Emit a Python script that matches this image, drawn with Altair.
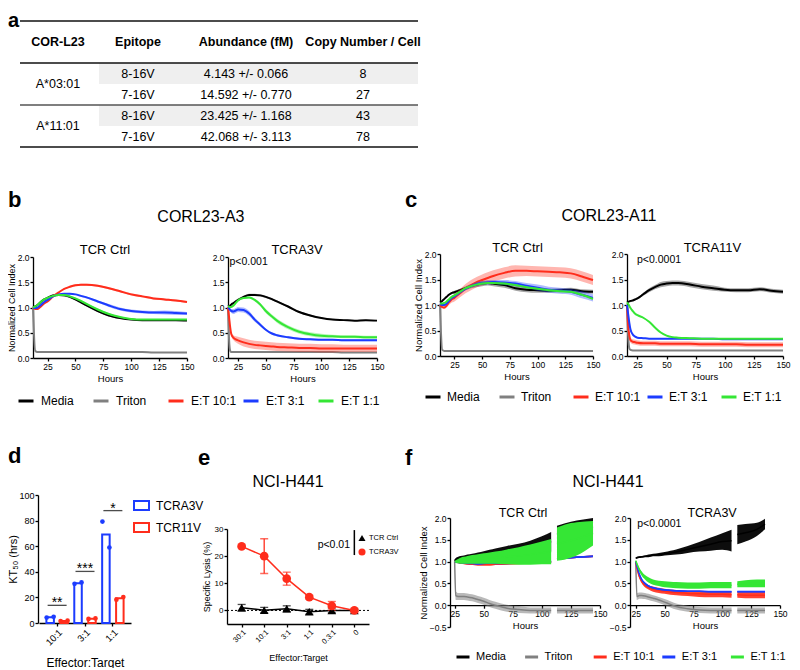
import altair as alt
import pandas as pd

FONT = "Liberation Sans"
W, H = 784, 660

BLACK, GRAY, RED, BLUE, GREEN = "#000000", "#808080", "#ff2d1c", "#1c3cff", "#35e635"
SERIES = ["Media", "Triton", "E:T 10:1", "E:T 3:1", "E:T 1:1"]
SERIES_COLORS = [BLACK, GRAY, RED, BLUE, GREEN]

# ---------------- panel a : table ----------------
TABLE_HEADERS = ["COR-L23", "Epitope", "Abundance (fM)", "Copy Number / Cell"]
TABLE_ALLELES = ["A*03:01", "A*11:01"]
TABLE_EPITOPES = ["8-16V", "7-16V", "8-16V", "7-16V"]
TABLE_ABUNDANCE = ["4.143 +/- 0.066", "14.592 +/- 0.770", "23.425 +/- 1.168", "42.068 +/- 3.113"]
TABLE_COPIES = [8, 27, 43, 78]

# ---------------- panels b, c : time courses ----------------
HOURS_L = [12, 14, 16, 18, 20, 22,
           25, 30, 35, 40, 45, 50, 55, 60,
           70, 80, 90, 100, 110, 120, 130, 140, 150]
HOURS_R = [16, 17, 18, 19, 21, 23,
           25, 30, 35, 40, 45, 50, 55, 60,
           70, 80, 90, 100, 110, 120, 130, 140, 150]

B_CTRL_MEDIA = [1.00, 1.02, 1.05, 1.09, 1.13, 1.16,
                1.19, 1.24, 1.25, 1.24, 1.21, 1.16, 1.10, 1.04,
                0.93, 0.84, 0.79, 0.76, 0.75, 0.75, 0.75, 0.75, 0.74]
B_CTRL_TRITON = [1.00, 0.14, 0.12, 0.12, 0.12, 0.12,
                 0.12, 0.12, 0.12, 0.12, 0.12, 0.12, 0.12, 0.12,
                 0.12, 0.12, 0.12, 0.12, 0.12, 0.11, 0.11, 0.11, 0.11]
B_CTRL_E10 = [1.00, 0.97, 0.97, 1.00, 1.04, 1.08,
              1.12, 1.22, 1.30, 1.37, 1.41, 1.44, 1.45, 1.45,
              1.43, 1.38, 1.32, 1.26, 1.22, 1.18, 1.16, 1.14, 1.11]
B_CTRL_E3 = [1.00, 0.99, 1.00, 1.03, 1.07, 1.11,
             1.15, 1.22, 1.26, 1.27, 1.27, 1.26, 1.23, 1.20,
             1.12, 1.04, 0.97, 0.93, 0.91, 0.90, 0.90, 0.89, 0.88]
B_CTRL_E1 = [1.00, 1.02, 1.05, 1.09, 1.13, 1.16,
             1.19, 1.23, 1.25, 1.25, 1.22, 1.18, 1.13, 1.07,
             0.96, 0.87, 0.81, 0.77, 0.76, 0.76, 0.76, 0.76, 0.76]
B_CTRL_MEDIA_SD = [0.00, 0.01, 0.01, 0.01, 0.01, 0.01,
                   0.01, 0.02, 0.02, 0.02, 0.02, 0.02, 0.02, 0.02,
                   0.02, 0.02, 0.02, 0.01, 0.01, 0.01, 0.01, 0.01, 0.01]
B_CTRL_TRITON_SD = [0.00, 0.01, 0.01, 0.01, 0.01, 0.01,
                    0.01, 0.01, 0.01, 0.01, 0.01, 0.01, 0.01, 0.01,
                    0.01, 0.01, 0.01, 0.01, 0.01, 0.01, 0.01, 0.01, 0.01]
B_CTRL_E10_SD = [0.00, 0.01, 0.01, 0.01, 0.01, 0.01,
                 0.01, 0.01, 0.01, 0.01, 0.02, 0.02, 0.02, 0.02,
                 0.02, 0.02, 0.02, 0.02, 0.02, 0.02, 0.02, 0.02, 0.02]
B_CTRL_E3_SD = [0.00, 0.01, 0.01, 0.01, 0.01, 0.01,
                0.01, 0.01, 0.01, 0.01, 0.01, 0.01, 0.02, 0.02,
                0.02, 0.03, 0.03, 0.03, 0.03, 0.03, 0.04, 0.04, 0.03]
B_CTRL_E1_SD = [0.00, 0.01, 0.01, 0.01, 0.01, 0.01,
                0.01, 0.01, 0.01, 0.01, 0.02, 0.02, 0.02, 0.02,
                0.02, 0.02, 0.01, 0.01, 0.01, 0.01, 0.01, 0.01, 0.01]

B_A3V_MEDIA = [1.02, 1.03, 1.04, 1.06, 1.09, 1.12,
               1.15, 1.21, 1.25, 1.25, 1.24, 1.21, 1.17, 1.12,
               1.02, 0.91, 0.84, 0.79, 0.76, 0.75, 0.74, 0.75, 0.74]
B_A3V_TRITON = [1.00, 0.35, 0.14, 0.12, 0.12, 0.12,
                0.12, 0.12, 0.12, 0.12, 0.12, 0.12, 0.12, 0.12,
                0.12, 0.12, 0.12, 0.12, 0.12, 0.11, 0.11, 0.11, 0.11]
B_A3V_E10 = [1.00, 0.80, 0.60, 0.47, 0.40, 0.37,
             0.35, 0.31, 0.28, 0.26, 0.25, 0.24, 0.23, 0.22,
             0.21, 0.20, 0.20, 0.19, 0.19, 0.19, 0.19, 0.19, 0.19]
B_A3V_E3 = [1.00, 0.98, 0.95, 0.93, 0.92, 0.94,
            0.96, 0.95, 0.88, 0.76, 0.66, 0.56, 0.49, 0.45,
            0.41, 0.38, 0.37, 0.36, 0.36, 0.35, 0.35, 0.35, 0.35]
B_A3V_E1 = [1.02, 1.02, 1.01, 1.01, 1.04, 1.09,
            1.14, 1.19, 1.20, 1.15, 1.06, 0.93, 0.83, 0.74,
            0.61, 0.52, 0.47, 0.44, 0.43, 0.42, 0.42, 0.41, 0.41]
B_A3V_MEDIA_SD = [0.00, 0.01, 0.01, 0.01, 0.01, 0.01,
                  0.01, 0.02, 0.02, 0.02, 0.02, 0.02, 0.02, 0.02,
                  0.02, 0.02, 0.02, 0.01, 0.01, 0.01, 0.01, 0.01, 0.01]
B_A3V_TRITON_SD = [0.00, 0.01, 0.01, 0.01, 0.01, 0.01,
                   0.01, 0.01, 0.01, 0.01, 0.01, 0.01, 0.01, 0.01,
                   0.01, 0.01, 0.01, 0.01, 0.01, 0.01, 0.01, 0.01, 0.01]
B_A3V_E10_SD = [0.00, 0.02, 0.03, 0.04, 0.05, 0.06,
                0.07, 0.08, 0.08, 0.08, 0.08, 0.08, 0.08, 0.08,
                0.08, 0.08, 0.08, 0.08, 0.08, 0.07, 0.07, 0.07, 0.07]
B_A3V_E3_SD = [0.00, 0.02, 0.03, 0.04, 0.05, 0.05,
               0.05, 0.05, 0.05, 0.04, 0.03, 0.02, 0.02, 0.02,
               0.02, 0.02, 0.02, 0.02, 0.02, 0.02, 0.02, 0.02, 0.02]
B_A3V_E1_SD = [0.00, 0.01, 0.01, 0.01, 0.02, 0.02,
               0.02, 0.02, 0.02, 0.03, 0.03, 0.04, 0.04, 0.04,
               0.04, 0.04, 0.04, 0.04, 0.03, 0.03, 0.03, 0.03, 0.03]

C_CTRL_MEDIA = [1.05, 1.08, 1.12, 1.16, 1.20, 1.23,
                1.25, 1.29, 1.33, 1.37, 1.40, 1.42, 1.43, 1.42,
                1.39, 1.33, 1.30, 1.29, 1.28, 1.29, 1.30, 1.27, 1.26]
C_CTRL_TRITON = [1.00, 0.12, 0.10, 0.10, 0.10, 0.10,
                 0.10, 0.10, 0.10, 0.10, 0.10, 0.10, 0.10, 0.10,
                 0.10, 0.10, 0.10, 0.10, 0.10, 0.10, 0.10, 0.10, 0.10]
C_CTRL_E10 = [1.00, 0.96, 0.95, 0.99, 1.05, 1.10,
              1.14, 1.23, 1.32, 1.39, 1.45, 1.49, 1.53, 1.57,
              1.63, 1.67, 1.67, 1.66, 1.65, 1.64, 1.62, 1.56, 1.49]
C_CTRL_E3 = [1.02, 1.00, 1.00, 1.03, 1.08, 1.13,
             1.17, 1.25, 1.32, 1.37, 1.41, 1.43, 1.44, 1.45,
             1.44, 1.42, 1.38, 1.34, 1.30, 1.28, 1.26, 1.20, 1.14]
C_CTRL_E1 = [1.03, 1.03, 1.04, 1.07, 1.11, 1.15,
             1.19, 1.26, 1.33, 1.37, 1.40, 1.42, 1.43, 1.43,
             1.42, 1.39, 1.35, 1.32, 1.29, 1.27, 1.26, 1.20, 1.12]
C_CTRL_MEDIA_SD = [0.00, 0.01, 0.01, 0.02, 0.02, 0.02,
                   0.03, 0.03, 0.04, 0.04, 0.05, 0.05, 0.05, 0.05,
                   0.05, 0.05, 0.05, 0.05, 0.04, 0.04, 0.04, 0.04, 0.04]
C_CTRL_TRITON_SD = [0.00, 0.01, 0.01, 0.01, 0.01, 0.01,
                    0.01, 0.01, 0.01, 0.01, 0.01, 0.01, 0.01, 0.01,
                    0.01, 0.01, 0.01, 0.01, 0.01, 0.01, 0.01, 0.01, 0.01]
C_CTRL_E10_SD = [0.00, 0.02, 0.03, 0.04, 0.05, 0.06,
                 0.07, 0.08, 0.09, 0.10, 0.10, 0.11, 0.11, 0.11,
                 0.11, 0.11, 0.10, 0.10, 0.10, 0.10, 0.10, 0.10, 0.10]
C_CTRL_E3_SD = [0.00, 0.01, 0.02, 0.02, 0.03, 0.03,
                0.03, 0.03, 0.03, 0.03, 0.04, 0.04, 0.04, 0.04,
                0.05, 0.05, 0.05, 0.06, 0.06, 0.06, 0.06, 0.07, 0.07]
C_CTRL_E1_SD = [0.00, 0.01, 0.01, 0.02, 0.02, 0.02,
                0.02, 0.02, 0.02, 0.02, 0.02, 0.02, 0.02, 0.02,
                0.02, 0.02, 0.02, 0.02, 0.02, 0.02, 0.02, 0.02, 0.02]

C_A11V_MEDIA = [1.05, 1.06, 1.07, 1.08, 1.09, 1.11,
                1.13, 1.21, 1.29, 1.35, 1.40, 1.42, 1.43, 1.43,
                1.40, 1.36, 1.33, 1.30, 1.29, 1.29, 1.31, 1.28, 1.26]
C_A11V_TRITON = [1.00, 0.40, 0.15, 0.12, 0.11, 0.11,
                 0.11, 0.11, 0.11, 0.11, 0.11, 0.11, 0.11, 0.11,
                 0.11, 0.11, 0.11, 0.11, 0.11, 0.11, 0.11, 0.11, 0.11]
C_A11V_E10 = [1.00, 0.60, 0.40, 0.31, 0.28, 0.27,
              0.26, 0.25, 0.25, 0.25, 0.24, 0.24, 0.24, 0.24,
              0.24, 0.23, 0.23, 0.23, 0.23, 0.22, 0.22, 0.22, 0.22]
C_A11V_E3 = [1.00, 0.82, 0.65, 0.52, 0.42, 0.38,
             0.36, 0.35, 0.34, 0.34, 0.34, 0.34, 0.34, 0.34,
             0.34, 0.34, 0.34, 0.33, 0.33, 0.33, 0.33, 0.33, 0.33]
C_A11V_E1 = [1.05, 1.02, 0.98, 0.94, 0.88, 0.83,
             0.80, 0.75, 0.67, 0.56, 0.46, 0.40, 0.37, 0.36,
             0.35, 0.34, 0.34, 0.34, 0.34, 0.34, 0.34, 0.34, 0.34]
C_A11V_MEDIA_SD = [0.00, 0.01, 0.01, 0.01, 0.02, 0.02,
                   0.02, 0.03, 0.04, 0.04, 0.05, 0.05, 0.05, 0.05,
                   0.05, 0.05, 0.05, 0.04, 0.04, 0.04, 0.04, 0.04, 0.04]
C_A11V_TRITON_SD = [0.00, 0.01, 0.01, 0.01, 0.01, 0.01,
                    0.01, 0.01, 0.01, 0.01, 0.01, 0.01, 0.01, 0.01,
                    0.01, 0.01, 0.01, 0.01, 0.01, 0.01, 0.01, 0.01, 0.01]
C_A11V_E10_SD = [0.00, 0.03, 0.04, 0.05, 0.05, 0.05,
                 0.05, 0.05, 0.05, 0.05, 0.05, 0.05, 0.05, 0.05,
                 0.05, 0.05, 0.05, 0.05, 0.05, 0.05, 0.05, 0.05, 0.05]
C_A11V_E3_SD = [0.00, 0.02, 0.02, 0.02, 0.01, 0.01,
                0.01, 0.01, 0.01, 0.01, 0.01, 0.01, 0.01, 0.01,
                0.01, 0.01, 0.01, 0.01, 0.01, 0.01, 0.01, 0.01, 0.01]
C_A11V_E1_SD = [0.00, 0.01, 0.01, 0.01, 0.01, 0.01,
                0.01, 0.01, 0.01, 0.01, 0.01, 0.01, 0.01, 0.01,
                0.01, 0.01, 0.01, 0.01, 0.01, 0.01, 0.01, 0.01, 0.01]

# ---------------- panel d : KT50 ----------------
KT50_RATIOS = ["10:1", "3:1", "1:1"]
KT50_GROUPS = ["TCRA3V", "TCR11V"]
KT50_A3V_REP1 = [4.2, 30.6, 79.2]
KT50_A3V_REP2 = [4.9, 31.7, 59.0]
KT50_11V_REP1 = [1.5, 3.2, 18.2]
KT50_11V_REP2 = [1.8, 3.6, 20.3]
KT50_SIG = ["**", "***", "*"]
KT50_SIG_Y = [13.8, 40.3, 87.8]

# ---------------- panel e : specific lysis ----------------
LYSIS_RATIOS = ["30:1", "10:1", "3:1", "1:1", "0.3:1", "0"]
LYSIS_GROUPS = ["TCR Ctrl", "TCRA3V"]
LYSIS_CTRL = [1.0, 0.1, 0.6, -0.5, 0.0, 0.0]
LYSIS_CTRL_SD = [1.2, 1.0, 1.1, 0.9, 0.9, 0.4]
LYSIS_A3V = [23.6, 20.0, 11.7, 4.9, 1.7, 0.0]
LYSIS_A3V_SD = [0.5, 6.4, 2.4, 0.7, 1.6, 0.5]

# ---------------- panel f : NCI-H441 time courses ----------------
HOURS_F_L = [25, 26, 28, 30, 33, 36, 40, 45, 50, 55,
             60, 70, 80, 90, 100, 108, 113, 120, 130, 144]
HOURS_F_R = [25, 26, 28, 30, 33, 36, 40, 45, 50, 55,
             60, 70, 80, 90, 100, 108, 113, 120, 130, 137]
F_GAP_HOURS = 110

F_CTRL_MEDIA = [1.02, 1.05, 1.07, 1.08, 1.09, 1.10, 1.12, 1.14, 1.16, 1.18,
                1.20, 1.24, 1.28, 1.33, 1.40, 1.46, 1.62, 1.68, 1.74, 1.80]
F_CTRL_MEDIA_SD = [0.02, 0.03, 0.04, 0.05, 0.05, 0.06, 0.06, 0.07, 0.08, 0.09,
                   0.10, 0.12, 0.13, 0.15, 0.18, 0.22, 0.20, 0.20, 0.20, 0.20]
F_CTRL_TRITON = [1.00, 0.22, 0.20, 0.20, 0.20, 0.19, 0.17, 0.13, 0.09, 0.04,
                 0.00, -0.07, -0.10, -0.12, -0.12, -0.12, -0.12, -0.12, -0.12, -0.12]
F_CTRL_TRITON_SD = [0.00, 0.10, 0.08, 0.08, 0.08, 0.08, 0.08, 0.08, 0.08, 0.08,
                    0.08, 0.08, 0.08, 0.07, 0.07, 0.07, 0.07, 0.07, 0.07, 0.07]
F_CTRL_E10 = [1.00, 0.99, 0.98, 0.97, 0.96, 0.95, 0.94, 0.93, 0.93, 0.93,
              0.94, 0.95, 0.96, 0.97, 0.98, 0.99, 1.06, 1.08, 1.10, 1.12]
F_CTRL_E10_SD = [0.00, 0.01, 0.01, 0.02, 0.02, 0.02, 0.02, 0.02, 0.02, 0.02,
                 0.02, 0.02, 0.02, 0.02, 0.02, 0.02, 0.02, 0.02, 0.02, 0.02]
F_CTRL_E3 = [1.00, 0.99, 0.98, 0.98, 0.97, 0.96, 0.96, 0.95, 0.96, 0.97,
             0.96, 0.96, 0.97, 0.98, 0.99, 1.00, 1.06, 1.08, 1.10, 1.12]
F_CTRL_E3_SD = [0.00, 0.01, 0.01, 0.02, 0.02, 0.02, 0.02, 0.02, 0.02, 0.02,
                0.02, 0.02, 0.02, 0.02, 0.02, 0.02, 0.02, 0.02, 0.02, 0.02]
F_CTRL_E1 = [1.00, 1.00, 1.01, 1.02, 1.03, 1.04, 1.05, 1.06, 1.07, 1.08,
             1.09, 1.11, 1.13, 1.16, 1.20, 1.23, 1.40, 1.45, 1.52, 1.65]
F_CTRL_E1_SD = [0.00, 0.03, 0.05, 0.07, 0.08, 0.09, 0.10, 0.11, 0.12, 0.13,
                0.14, 0.17, 0.20, 0.23, 0.26, 0.29, 0.38, 0.40, 0.38, 0.28]

F_A3V_MEDIA = [1.08, 1.09, 1.10, 1.11, 1.12, 1.13, 1.15, 1.16, 1.18, 1.20,
               1.22, 1.28, 1.34, 1.40, 1.46, 1.48, 1.62, 1.66, 1.74, 1.86]
F_A3V_MEDIA_SD = [0.02, 0.02, 0.02, 0.02, 0.02, 0.03, 0.03, 0.04, 0.04, 0.05,
                  0.06, 0.08, 0.11, 0.15, 0.19, 0.25, 0.22, 0.20, 0.15, 0.12]
F_A3V_TRITON = [1.00, 0.20, 0.22, 0.22, 0.21, 0.19, 0.16, 0.12, 0.07, 0.02,
                -0.03, -0.08, -0.11, -0.12, -0.12, -0.12, -0.12, -0.12, -0.12, -0.12]
F_A3V_TRITON_SD = [0.00, 0.08, 0.07, 0.07, 0.07, 0.07, 0.07, 0.07, 0.07, 0.07,
                   0.07, 0.07, 0.07, 0.07, 0.07, 0.07, 0.07, 0.07, 0.07, 0.07]
F_A3V_E10 = [1.00, 0.85, 0.66, 0.55, 0.46, 0.41, 0.37, 0.34, 0.32, 0.30,
             0.29, 0.27, 0.26, 0.25, 0.25, 0.24, 0.24, 0.23, 0.23, 0.23]
F_A3V_E10_SD = [0.00, 0.02, 0.03, 0.04, 0.05, 0.05, 0.06, 0.06, 0.06, 0.06,
                0.06, 0.06, 0.07, 0.07, 0.07, 0.07, 0.07, 0.07, 0.07, 0.07]
F_A3V_E3 = [1.00, 0.90, 0.72, 0.60, 0.50, 0.44, 0.40, 0.37, 0.35, 0.34,
            0.33, 0.32, 0.32, 0.31, 0.31, 0.31, 0.31, 0.31, 0.31, 0.31]
F_A3V_E3_SD = [0.00, 0.02, 0.02, 0.02, 0.02, 0.02, 0.02, 0.02, 0.02, 0.02,
               0.02, 0.02, 0.02, 0.02, 0.02, 0.02, 0.02, 0.02, 0.02, 0.02]
F_A3V_E1 = [1.02, 0.95, 0.82, 0.73, 0.64, 0.58, 0.53, 0.50, 0.48, 0.47,
            0.46, 0.45, 0.45, 0.46, 0.46, 0.46, 0.48, 0.49, 0.50, 0.50]
F_A3V_E1_SD = [0.02, 0.03, 0.04, 0.05, 0.05, 0.06, 0.06, 0.06, 0.07, 0.07,
               0.07, 0.07, 0.07, 0.07, 0.07, 0.07, 0.07, 0.08, 0.09, 0.09]


# ================= helpers =================
def qscale(domain, rng):
    return alt.Scale(domain=domain, range=rng, nice=False, zero=False)


ONE_ROW = alt.Data(values=[{}])


def note(text, x, y, size, weight="normal", align="center", xtype="quantitative", dx=0, hide_axes=False):
    if hide_axes:
        enc = dict(x=alt.XDatum(x, type=xtype, axis=None), y=alt.YDatum(y, type="quantitative", axis=None))
    else:
        enc = dict(x=alt.XDatum(x, type=xtype), y=alt.YDatum(y, type="quantitative"))
    return alt.Chart(ONE_ROW).mark_text(
        text=text, fontSize=size, fontWeight=weight, align=align,
        baseline="alphabetic", dx=dx, color="black", font=FONT
    ).encode(**enc)


def hours_axis(axis_y, lab=8.5, tit=9.5):
    return alt.Axis(orient="bottom", offset=axis_y - H, values=[25, 50, 75, 100, 125, 150],
                    title="Hours", labelFontSize=lab, titleFontSize=tit, tickSize=3,
                    labelPadding=1, titlePadding=3, labelFlush=False, labelOverlap=False,
                    domainWidth=1.3, tickWidth=1.3)


def nci_axis(axis_x, values, titled, lab=8.5, tit=9.5):
    kw = dict(orient="left", offset=-axis_x, values=values, format=".1f",
              labelFontSize=lab, titleFontSize=tit, tickSize=3, labelPadding=1,
              titlePadding=0.5, labelFlush=False, labelOverlap=False,
              domainWidth=1.3, tickWidth=1.3)
    kw["title"] = "Normalized Cell Index" if titled else None
    return alt.Axis(**kw)


def course_df(hours, means, sds, gap=None):
    rows = []
    for name, m, s in zip(SERIES, means, sds):
        for t, v, e in zip(hours, m, s):
            rows.append({"hours": t, "series": name, "value": v, "lo": v - e, "hi": v + e,
                         "seg": 1 if (gap is not None and t > gap) else 0})
    return pd.DataFrame(rows)


def course(df, xs, ys, xaxis, yaxis, legend, line_w, band_opac, notes):
    cscale = alt.Scale(domain=SERIES, range=SERIES_COLORS)
    layers = []
    for k, (name, colr, op) in enumerate(zip(SERIES, SERIES_COLORS, band_opac)):
        sub = alt.Chart(df).transform_filter(alt.datum.series == name)
        if k == 0:
            bx = alt.X("hours:Q", scale=xs, axis=xaxis)
            by = alt.Y("lo:Q", scale=ys, axis=yaxis, stack=None)
        else:
            bx = alt.X("hours:Q", scale=xs)
            by = alt.Y("lo:Q", scale=ys, stack=None)
        layers.append(sub.mark_area(interpolate="monotone", opacity=op).encode(
            x=bx, y=by, y2="hi:Q", fill=alt.value(colr), detail="seg:N"))
        layers.append(sub.mark_line(strokeWidth=line_w, interpolate="monotone").encode(
            x=alt.X("hours:Q", scale=xs), y=alt.Y("value:Q", scale=ys),
            color=alt.Color("series:N", scale=cscale, legend=legend), detail="seg:N"))
    return alt.layer(*layers, *notes)


def course_legend(x, y, size, sym, offset, colpad):
    return alt.Legend(orient="none", legendX=x, legendY=y, direction="horizontal", columns=5,
                      title=None, symbolType="stroke", symbolStrokeWidth=3, symbolSize=sym,
                      labelFontSize=size, labelOffset=offset, columnPadding=colpad,
                      gridAlign="all", padding=0, labelColor="black")


# ================= panel a =================
COL_X = [38, 118, 226, 343]
TABLE_W = 398
BAND_X0 = 79
tx = qscale([0, TABLE_W], [12, 410])
ty = qscale([-2, 4], [13, 139])

head_df = pd.DataFrame({"text": TABLE_HEADERS, "col": COL_X, "row": [-1] * len(TABLE_HEADERS)})
cells = []
for i, (ep, ab, cp) in enumerate(zip(TABLE_EPITOPES, TABLE_ABUNDANCE, TABLE_COPIES)):
    cells.append({"text": ep, "col": COL_X[1], "row": i + 0.5})
    cells.append({"text": ab, "col": COL_X[2], "row": i + 0.5})
    cells.append({"text": str(cp), "col": COL_X[3], "row": i + 0.5})
for j, al in enumerate(TABLE_ALLELES):
    cells.append({"text": al, "col": COL_X[0], "row": 2 * j + 1})
cell_df = pd.DataFrame(cells)
shade_df = pd.DataFrame({"r0": [0, 2], "r1": [1, 3]})

table = alt.layer(
    alt.Chart(shade_df).mark_rect(color="#efefef").encode(
        x=alt.XDatum(BAND_X0, type="quantitative", scale=tx, axis=None),
        x2=alt.X2Datum(TABLE_W),
        y=alt.Y("r0:Q", scale=ty, axis=None), y2="r1:Q"),
    alt.Chart(pd.DataFrame({"row": [-2, 0, 4]})).mark_rule(color="#111111", strokeWidth=1.3).encode(
        x=alt.XDatum(0, type="quantitative", scale=tx, axis=None),
        x2=alt.X2Datum(TABLE_W),
        y=alt.Y("row:Q", scale=ty, axis=None)),
    alt.Chart(pd.DataFrame({"row": [2]})).mark_rule(color="#555555", strokeWidth=1.3).encode(
        x=alt.XDatum(0, type="quantitative", scale=tx, axis=None),
        x2=alt.X2Datum(TABLE_W),
        y=alt.Y("row:Q", scale=ty, axis=None)),
    alt.Chart(head_df).mark_text(fontSize=12.5, fontWeight="bold", baseline="middle", color="black", font=FONT).encode(
        x=alt.X("col:Q", scale=tx, axis=None), y=alt.Y("row:Q", scale=ty, axis=None), text="text:N"),
    alt.Chart(cell_df).mark_text(fontSize=12.5, baseline="middle", color="black", font=FONT).encode(
        x=alt.X("col:Q", scale=tx, axis=None), y=alt.Y("row:Q", scale=ty, axis=None), text="text:N"),
    note("a", -12, -1.73, 20, "bold", "left", hide_axes=True),
)

# ================= panel b =================
bl = course(
    course_df(HOURS_L,
              [B_CTRL_MEDIA, B_CTRL_TRITON, B_CTRL_E10, B_CTRL_E3, B_CTRL_E1],
              [B_CTRL_MEDIA_SD, B_CTRL_TRITON_SD, B_CTRL_E10_SD, B_CTRL_E3_SD, B_CTRL_E1_SD]),
    qscale([12, 150], [25, 179]), qscale([0, 2], [350, 249]),
    hours_axis(350), nci_axis(25, [0, 0.5, 1, 1.5, 2], True, 8.5, 9),
    course_legend(9, 384, 12, 225, 6, 0), 2, [0.35] * 5,
    [note("b", -10.4, 2.99, 22, "bold", "left"),
     note("CORL23-A3", 162.5, 2.69, 16),
     note("TCR Ctrl", 76.5, 2.06, 13)],
)
br = course(
    course_df(HOURS_R,
              [B_A3V_MEDIA, B_A3V_TRITON, B_A3V_E10, B_A3V_E3, B_A3V_E1],
              [B_A3V_MEDIA_SD, B_A3V_TRITON_SD, B_A3V_E10_SD, B_A3V_E3_SD, B_A3V_E1_SD]),
    qscale([16, 150], [220, 369]), qscale([0, 2], [350, 249]),
    hours_axis(350), nci_axis(220, [0, 0.5, 1, 1.5, 2], False),
    None, 2, [0.35] * 5,
    [note("TCRA3V", 78.1, 2.06, 13),
     note("p<0.001", 17.35, 1.84, 10.5, align="left")],
)

# ================= panel c =================
cl = course(
    course_df(HOURS_L,
              [C_CTRL_MEDIA, C_CTRL_TRITON, C_CTRL_E10, C_CTRL_E3, C_CTRL_E1],
              [C_CTRL_MEDIA_SD, C_CTRL_TRITON_SD, C_CTRL_E10_SD, C_CTRL_E3_SD, C_CTRL_E1_SD]),
    qscale([12, 150], [432, 585]), qscale([0, 2], [348, 246]),
    hours_axis(348), nci_axis(432, [0, 0.5, 1, 1.5, 2], True),
    course_legend(416, 380, 12, 225, 5, 0), 2, [0.35] * 5,
    [note("c", -19.6, 2.92, 22, "bold", "left"),
     note("CORL23-A11", 164.4, 2.65, 16),
     note("TCR Ctrl", 81.9, 2.04, 13)],
)
cr = course(
    course_df(HOURS_R,
              [C_A11V_MEDIA, C_A11V_TRITON, C_A11V_E10, C_A11V_E3, C_A11V_E1],
              [C_A11V_MEDIA_SD, C_A11V_TRITON_SD, C_A11V_E10_SD, C_A11V_E3_SD, C_A11V_E1_SD]),
    qscale([16, 150], [619, 775]), qscale([0, 2], [348, 246]),
    hours_axis(348), nci_axis(619, [0, 0.5, 1, 1.5, 2], False),
    None, 2, [0.35] * 5,
    [note("TCRA11V", 89.4, 2.04, 13),
     note("p<0.0001", 24.6, 1.82, 10.5, align="left")],
)

# ================= panel d =================
kt_rows = []
for g, reps in ((KT50_GROUPS[0], (KT50_A3V_REP1, KT50_A3V_REP2)),
                (KT50_GROUPS[1], (KT50_11V_REP1, KT50_11V_REP2))):
    for k, rep in enumerate(reps):
        for ratio, v in zip(KT50_RATIOS, rep):
            kt_rows.append({"ratio": ratio, "group": g, "slot": f"{g}-{k + 1}", "kt50": v})
kt_df = pd.DataFrame(kt_rows)
slots = [f"{g}-{k}" for g in KT50_GROUPS for k in (1, 2)]
sig_df = pd.DataFrame({"ratio": KT50_RATIOS, "sig": KT50_SIG, "y": KT50_SIG_Y})

dxs = alt.Scale(domain=KT50_RATIOS, range=[31, 123], paddingInner=0, paddingOuter=0.15)
dys = qscale([0, 100], [615, 487])
gcol = alt.Scale(domain=KT50_GROUPS, range=[BLUE, RED])
d_legend = alt.Legend(orient="none", legendX=125, legendY=489, title=None,
                      symbolType="M-1,-0.6H1V0.6H-1Z", symbolSize=225, symbolStrokeWidth=2,
                      symbolFillColor="white", labelFontSize=12, labelOffset=6, rowPadding=5,
                      padding=0, labelColor="black")
d_xaxis = alt.Axis(orient="bottom", offset=615 - H, title="Effector:Target", labelAngle=-45,
                   labelFontSize=9.5, titleFontSize=12, tickSize=3, labelPadding=1,
                   titleY=43, titleBaseline="alphabetic", domainWidth=1.3, tickWidth=1.3)
d_yaxis = alt.Axis(orient="left", offset=-30, values=[0, 20, 40, 60, 80, 100], title="KT₅₀ (hrs)",
                   labelFontSize=9, titleFontSize=11, tickSize=3, labelPadding=1,
                   titlePadding=0.5, domainWidth=1.3, tickWidth=1.3)
d_x = alt.X("ratio:N", scale=dxs, sort=KT50_RATIOS)
d_layers = [
    alt.Chart(kt_df).mark_bar(fill="white", strokeWidth=2, width=7.5).encode(
        x=alt.X("ratio:N", scale=dxs, sort=KT50_RATIOS, axis=d_xaxis),
        xOffset=alt.XOffset("group:N", scale=alt.Scale(domain=KT50_GROUPS)),
        y=alt.Y("mean(kt50):Q", scale=dys, axis=d_yaxis, stack=None),
        stroke=alt.Stroke("group:N", scale=gcol, legend=d_legend)),
]
for g, colr in zip(KT50_GROUPS, [BLUE, RED]):
    d_layers.append(
        alt.Chart(kt_df).transform_filter(alt.datum.group == g).mark_circle(size=22, opacity=1, color=colr).encode(
            x=d_x,
            xOffset=alt.XOffset("slot:N", scale=alt.Scale(domain=slots)),
            y=alt.Y("kt50:Q", scale=dys)))
d_layers += [
    alt.Chart(sig_df).mark_tick(orient="horizontal", size=19, thickness=1.3, color="black").encode(
        x=d_x, y=alt.Y("y:Q", scale=dys)),
    alt.Chart(sig_df).mark_text(fontSize=14, baseline="alphabetic", dy=2, color="black", font=FONT).encode(
        x=d_x, y=alt.Y("y:Q", scale=dys), text="sig:N"),
    note("d", "10:1", 125, 22, "bold", "left", xtype="nominal", dx=-49),
]
d_panel = alt.layer(*d_layers).resolve_scale(xOffset="independent")

# ================= panel e =================
ly_rows = []
for g, vals, sds in ((LYSIS_GROUPS[0], LYSIS_CTRL, LYSIS_CTRL_SD), (LYSIS_GROUPS[1], LYSIS_A3V, LYSIS_A3V_SD)):
    for i, (r, v, s) in enumerate(zip(LYSIS_RATIOS, vals, sds)):
        ly_rows.append({"ratio": r, "idx": i, "tcr": g, "value": v, "lo": v - s, "hi": v + s})
ly_df = pd.DataFrame(ly_rows)
exs = alt.Scale(type="point", domain=LYSIS_RATIOS, range=[219, 361], padding=0.65)
eys = qscale([-5, 30], [616, 521])
ecol = alt.Scale(domain=LYSIS_GROUPS, range=[BLACK, RED])
eshape = alt.Scale(domain=LYSIS_GROUPS, range=["triangle-up", "circle"])
e_legend = alt.Legend(orient="none", legendX=350, legendY=526, title=None, labelFontSize=7.5,
                      symbolSize=50, rowPadding=6, labelOffset=3, padding=0, labelColor="black",
                      symbolStrokeWidth=0)
e_xaxis = alt.Axis(orient="bottom", offset=616 - H, title="Effector:Target", labelAngle=-45,
                   labelFontSize=7.5, titleFontSize=9, tickSize=3, labelPadding=1,
                   titleY=36, titleBaseline="alphabetic", domainWidth=1.3, tickWidth=1.3)
e_yaxis = alt.Axis(orient="left", offset=-219, values=[0, 10, 20, 30], title="Specific Lysis (%)",
                   labelFontSize=8, titleFontSize=9, tickSize=3, labelPadding=1, titlePadding=3,
                   domainWidth=1.3, tickWidth=1.3)
ex_field = alt.X("ratio:N", scale=exs, sort=LYSIS_RATIOS)
e_zero = alt.Chart(ONE_ROW).mark_rule(color="black", strokeWidth=1, strokeDash=[2, 2]).encode(
    x=alt.XDatum(0, type="quantitative", scale=qscale([0, 1], [219, 361]), axis=None),
    x2=alt.X2Datum(1),
    y=alt.YDatum(0, type="quantitative", scale=eys, axis=None))
e_layers = []
for k, (g, colr) in enumerate(zip(LYSIS_GROUPS, [BLACK, RED])):
    sub = alt.Chart(ly_df).transform_filter(alt.datum.tcr == g)
    if k == 0:
        lx = alt.X("ratio:N", scale=exs, sort=LYSIS_RATIOS, axis=e_xaxis)
        lyy = alt.Y("value:Q", scale=eys, axis=e_yaxis)
    else:
        lx = ex_field
        lyy = alt.Y("value:Q", scale=eys)
    e_layers += [
        sub.mark_line(strokeWidth=1.5, color=colr).encode(x=lx, y=lyy, order=alt.Order("idx:Q")),
        sub.mark_rule(strokeWidth=1.3, color=colr).encode(x=ex_field, y=alt.Y("lo:Q", scale=eys), y2="hi:Q"),
        sub.mark_tick(orient="horizontal", size=8, thickness=1.3, color=colr).encode(
            x=ex_field, y=alt.Y("lo:Q", scale=eys)),
        sub.mark_tick(orient="horizontal", size=8, thickness=1.3, color=colr).encode(
            x=ex_field, y=alt.Y("hi:Q", scale=eys)),
    ]
e_layers += [
    alt.Chart(ly_df).mark_point(filled=True, size=75, opacity=1).encode(
        x=ex_field, y=alt.Y("value:Q", scale=eys),
        color=alt.Color("tcr:N", scale=ecol, legend=e_legend),
        shape=alt.Shape("tcr:N", scale=eshape, legend=e_legend)),
    alt.Chart(ONE_ROW).mark_rule(color="black", strokeWidth=1.5).encode(
        x=alt.XDatum("0", type="nominal"),
        y=alt.YDatum(20.4, type="quantitative"), y2=alt.Y2Datum(29.6)),
    note("p<0.01", "0", 23.0, 10.5, align="right", xtype="nominal", dx=-4.3),
    note("e", "30:1", 53.6, 22, "bold", "left", xtype="nominal", dx=-43.6),
    note("NCI-H441", "3:1", 45.5, 16, xtype="nominal", dx=1.3),
]
e_panel = alt.layer(*e_layers)

# ================= panel f =================
F_OPAC = [0.95, 0.55, 0.9, 0.9, 1.0]
fys = qscale([-0.5, 2], [619, 510])
f_yvals = [-0.5, 0, 0.5, 1, 1.5, 2]
fl = course(
    course_df(HOURS_F_L,
              [F_CTRL_MEDIA, F_CTRL_TRITON, F_CTRL_E10, F_CTRL_E3, F_CTRL_E1],
              [F_CTRL_MEDIA_SD, F_CTRL_TRITON_SD, F_CTRL_E10_SD, F_CTRL_E3_SD, F_CTRL_E1_SD],
              gap=F_GAP_HOURS),
    qscale([21, 150], [442, 592]), fys,
    hours_axis(597.2, 8.5, 9.5), nci_axis(442, f_yvals, True, 8.5, 9.5),
    course_legend(447, 641, 11, 169, 5, 0.6), 1.5, F_OPAC,
    [note("f", -17.7, 3.216, 22, "bold", "left"),
     note("NCI-H441", 156.9, 2.711, 16),
     note("TCR Ctrl", 83.8, 2.03, 12.5)],
)
fr = course(
    course_df(HOURS_F_R,
              [F_A3V_MEDIA, F_A3V_TRITON, F_A3V_E10, F_A3V_E3, F_A3V_E1],
              [F_A3V_MEDIA_SD, F_A3V_TRITON_SD, F_A3V_E10_SD, F_A3V_E3_SD, F_A3V_E1_SD],
              gap=F_GAP_HOURS),
    qscale([20, 150], [622, 772]), fys,
    hours_axis(597.2, 8.5, 9.5), nci_axis(622, f_yvals, False, 8.5, 9.5),
    None, 1.5, F_OPAC,
    [note("TCRA3V", 91.1, 2.03, 12.5),
     note("p<0.0001", 26.3, 1.79, 10.5, align="left")],
)

chart = alt.layer(
    table, bl, br, cl, cr, d_panel, e_zero, e_panel, fl, fr
).resolve_scale(
    x="independent", y="independent", color="independent",
    stroke="independent", shape="independent", xOffset="independent"
).resolve_axis(
    x="independent", y="independent"
).resolve_legend(
    color="independent", stroke="independent", shape="independent"
).properties(
    width=W, height=H, padding=0, autosize=alt.AutoSizeParams(type="none")
).configure(
    font=FONT
).configure_view(
    stroke=None
).configure_axis(
    labelFont=FONT, titleFont=FONT, titleFontWeight="normal", labelColor="black",
    titleColor="black", domainColor="black", tickColor="black", grid=False
).configure_legend(
    labelFont=FONT
)

chart.save("out.html", embed_options={"renderer": "svg", "actions": False})
